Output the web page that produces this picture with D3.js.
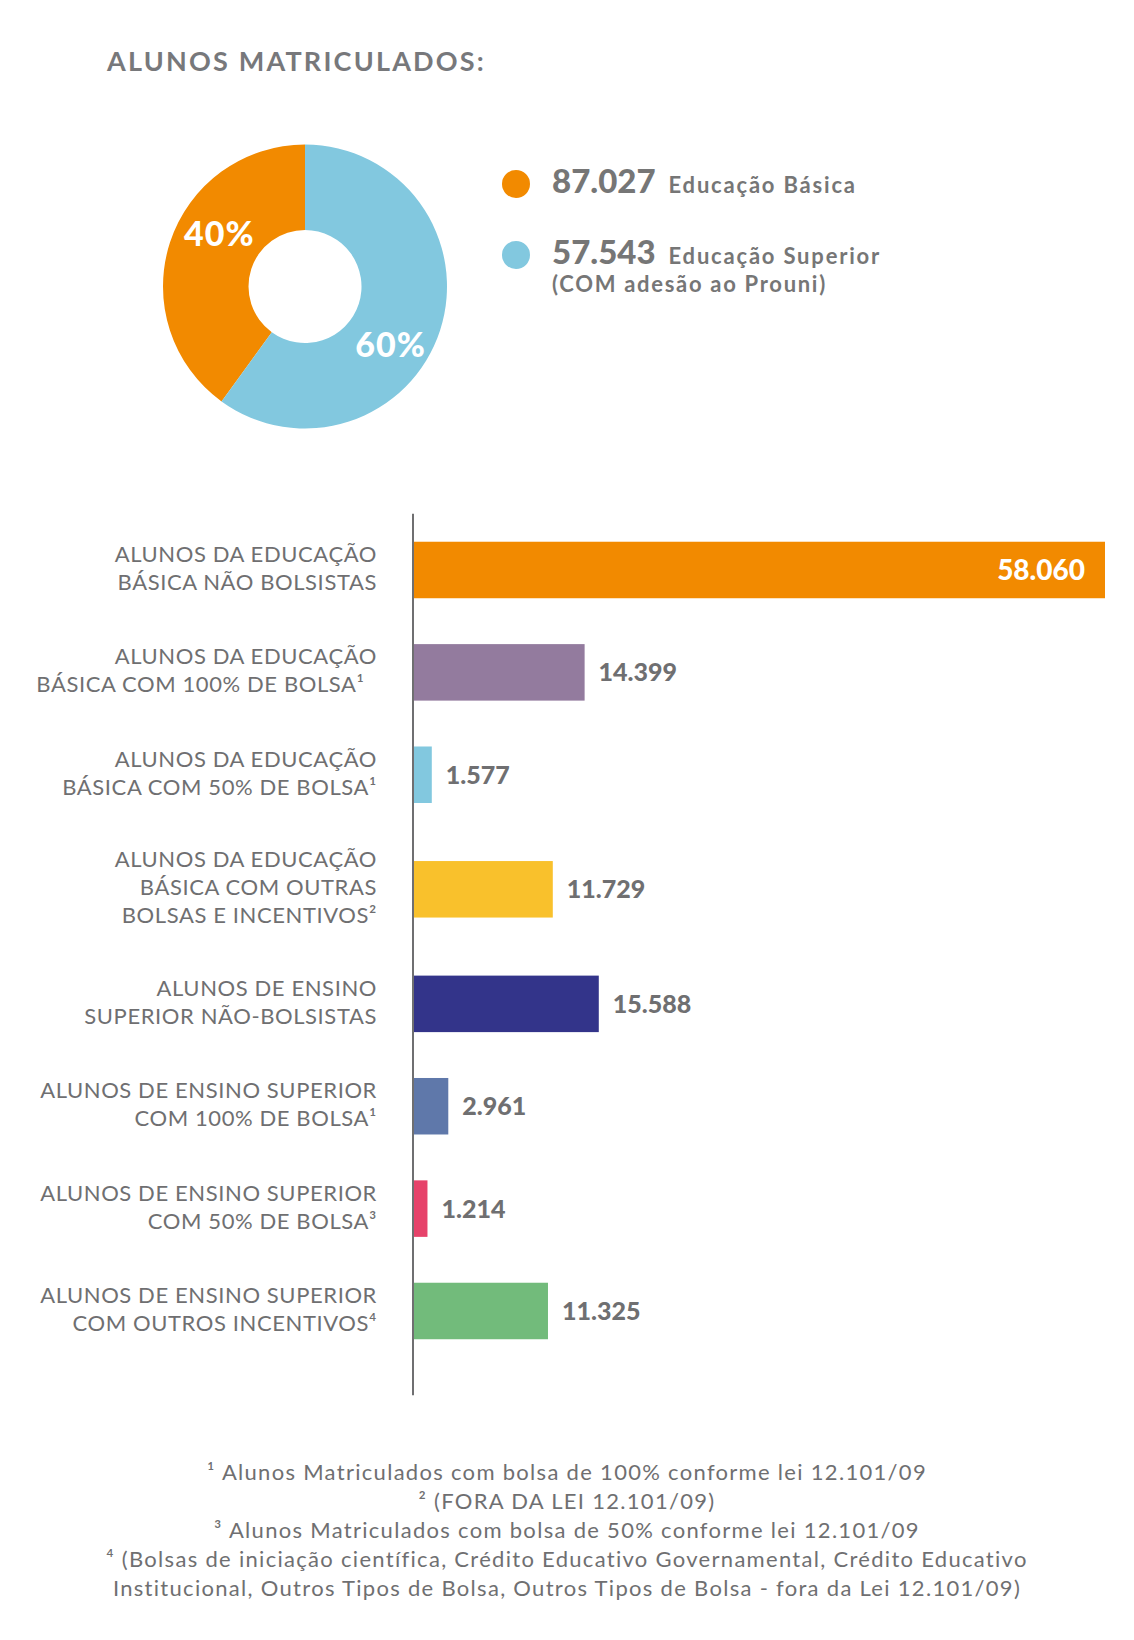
<!DOCTYPE html>
<html>
<head>
<meta charset="utf-8">
<script src="https://cdn.jsdelivr.net/npm/d3@7"></script>
<style>
  body { margin: 0; background: #fff; }
  text { font-family: Lato, "Noto Sans", sans-serif; }
</style>
</head>
<body>
<div id="chart"></div>
<script>
// Donut data
const pieNames = ["Educação Básica", "Educação Superior"];
const pieShares = [40, 60];
const pieTotals = [87027, 57543];
const pieNotes = ["", "(COM adesão ao Prouni)"];

// Bar data
const barLabels = [
  ["ALUNOS DA EDUCAÇÃO", "BÁSICA NÃO BOLSISTAS"],
  ["ALUNOS DA EDUCAÇÃO", "BÁSICA COM 100% DE BOLSA¹\u00a0\u00a0"],
  ["ALUNOS DA EDUCAÇÃO", "BÁSICA COM 50% DE BOLSA¹"],
  ["ALUNOS DA EDUCAÇÃO", "BÁSICA COM OUTRAS", "BOLSAS E INCENTIVOS²"],
  ["ALUNOS DE ENSINO", "SUPERIOR NÃO-BOLSISTAS"],
  ["ALUNOS DE ENSINO SUPERIOR", "COM 100% DE BOLSA¹"],
  ["ALUNOS DE ENSINO SUPERIOR", "COM 50% DE BOLSA³"],
  ["ALUNOS DE ENSINO SUPERIOR", "COM OUTROS INCENTIVOS⁴"]
];
const barValues = [58060, 14399, 1577, 11729, 15588, 2961, 1214, 11325];

const footnotes = [
  "¹ Alunos Matriculados com bolsa de 100% conforme lei 12.101/09",
  "² (FORA DA LEI 12.101/09)",
  "³ Alunos Matriculados com bolsa de 50% conforme lei 12.101/09",
  "⁴ (Bolsas de iniciação científica, Crédito Educativo Governamental, Crédito Educativo",
  "Institucional, Outros Tipos de Bolsa, Outros Tipos de Bolsa - fora da Lei 12.101/09)"
];

const piePalette = ["#f28a00", "#82c8df"];
const barPalette = ["#f28a00", "#937b9e", "#82c8df", "#f9c12c", "#33348a", "#5f78aa", "#e6426a", "#72bb7b"];
const gray = "#6f6f71";

const width = 1134;
const height = 1640;

const svg = d3.select("#chart")
  .append("svg")
  .attr("width", width)
  .attr("height", height);

// number format with "." as thousands separator
const ptBR = d3.formatLocale({decimal: ",", thousands: ".", grouping: [3], currency: ["R$", ""]});
const fmt = ptBR.format(",d");

// Title
svg.append("text")
  .attr("x", 107)
  .attr("y", 71)
  .attr("font-size", 27)
  .attr("font-weight", 700)
  .attr("letter-spacing", 2.2)
  .attr("fill", "#77787b")
  .text("ALUNOS MATRICULADOS:");

// ---- Donut ----
const cx = 305, cy = 286.5;
const outerR = 142, innerR = 56.5;
const shareSum = d3.sum(pieShares);

const pie = d3.pie()
  .sort(null)
  .startAngle(-2 * Math.PI * pieShares[0] / shareSum)
  .endAngle(2 * Math.PI * pieShares[1] / shareSum);

const arc = d3.arc().innerRadius(innerR).outerRadius(outerR);
const labelShift = 0.26; // labels sit a bit clockwise from the slice middle
const labelArc = d3.arc().innerRadius(102).outerRadius(102);

const pieColor = d3.scaleOrdinal(pieNames, piePalette);
const donut = svg.append("g").attr("transform", `translate(${cx},${cy})`);
const slices = pie(pieShares);

donut.selectAll("path")
  .data(slices)
  .enter().append("path")
  .attr("d", arc)
  .attr("fill", (d, i) => pieColor(pieNames[i]));

donut.selectAll(".pct")
  .data(slices)
  .enter().append("text")
  .attr("class", "pct")
  .attr("transform", d => {
    const c = labelArc.centroid({startAngle: d.startAngle + labelShift, endAngle: d.endAngle + labelShift});
    return `translate(${c[0]},${c[1] + 3})`;
  })
  .attr("text-anchor", "middle")
  .attr("dy", "0.36em")
  .attr("font-size", 34)
  .attr("font-weight", 900)
  .attr("letter-spacing", 1)
  .attr("fill", "#fff")
  .text(d => d.data + "%");

// Legend
const legendY = d3.scaleOrdinal(pieNames, [184, 255]);
const legend = svg.selectAll(".legend")
  .data(pieNames)
  .enter().append("g")
  .attr("class", "legend")
  .attr("transform", d => `translate(0,${legendY(d)})`);

legend.append("circle")
  .attr("cx", 516)
  .attr("r", 14)
  .attr("fill", d => pieColor(d));

const legendText = legend.append("text")
  .attr("x", 552)
  .attr("y", 9)
  .attr("fill", "#767676");
legendText.append("tspan")
  .attr("font-size", 33)
  .attr("font-weight", 900)
  .text((d, i) => fmt(pieTotals[i]));
legendText.append("tspan")
  .attr("dx", 13)
  .attr("font-size", 22)
  .attr("font-weight", 700)
  .attr("letter-spacing", 1.8)
  .text(d => d);

legend.append("text")
  .attr("x", 552)
  .attr("y", 37)
  .attr("font-size", 22)
  .attr("font-weight", 700)
  .attr("letter-spacing", 1.7)
  .attr("fill", "#767676")
  .text((d, i) => pieNotes[i]);

// ---- Bars ----
const axisX = 413;
const barH = 56.5;
const lineH = 28;

// rows with three label lines get a little more room
const rowWeights = barLabels.map(l => l.length + 2.2);
const rowStarts = d3.cumsum([0].concat(rowWeights));
const totalWeight = rowStarts[rowStarts.length - 1];
const y = d3.scaleLinear()
  .domain([0, totalWeight])
  .range([518.8, 518.8 + totalWeight * 24.375]);
const rowCenter = i => y(rowStarts[i] + rowWeights[i] / 2);

const x = d3.scaleLinear()
  .domain([0, 58060])
  .range([axisX, 1105]);

const barColor = d3.scaleOrdinal(d3.range(barValues.length), barPalette);

const rows = svg.selectAll(".row")
  .data(barValues)
  .enter().append("g")
  .attr("class", "row")
  .attr("transform", (d, i) => `translate(0,${rowCenter(i)})`);

rows.append("rect")
  .attr("x", x(0))
  .attr("y", -barH / 2)
  .attr("width", d => x(d) - x(0))
  .attr("height", barH)
  .attr("fill", (d, i) => barColor(i));

// value labels: inside the widest bar, outside the others
rows.append("text")
  .attr("x", (d, i) => i === 0 ? x(d) - 20 : x(d) + 14)
  .attr("dy", "0.36em")
  .attr("text-anchor", (d, i) => i === 0 ? "end" : "start")
  .attr("font-size", (d, i) => i === 0 ? 28 : 25)
  .attr("font-weight", 900)
  .attr("fill", (d, i) => i === 0 ? "#fff" : gray)
  .text(d => fmt(d));

// category labels
rows.append("text")
  .attr("text-anchor", "end")
  .attr("font-size", 22)
  .attr("font-weight", 400)
  .attr("letter-spacing", 0.6)
  .attr("fill", gray)
  .each(function(d, i) {
    const lines = barLabels[i];
    const t = d3.select(this);
    lines.forEach((line, j) => {
      t.append("tspan")
        .attr("x", 377)
        .attr("y", (j - (lines.length - 1) / 2) * lineH - 2)
        .attr("dy", "0.36em")
        .text(line);
    });
  });

// axis line
svg.append("line")
  .attr("x1", axisX)
  .attr("x2", axisX)
  .attr("y1", y(0) - 5)
  .attr("y2", y(totalWeight) + 33)
  .attr("stroke", gray)
  .attr("stroke-width", 2);

// ---- Footnotes ----
svg.selectAll(".note")
  .data(footnotes)
  .enter().append("text")
  .attr("class", "note")
  .attr("x", 567)
  .attr("y", (d, i) => 1480 + i * 29)
  .attr("text-anchor", "middle")
  .attr("font-size", 22)
  .attr("letter-spacing", 1.3)
  .attr("fill", gray)
  .text(d => d);
</script>
</body>
</html>
